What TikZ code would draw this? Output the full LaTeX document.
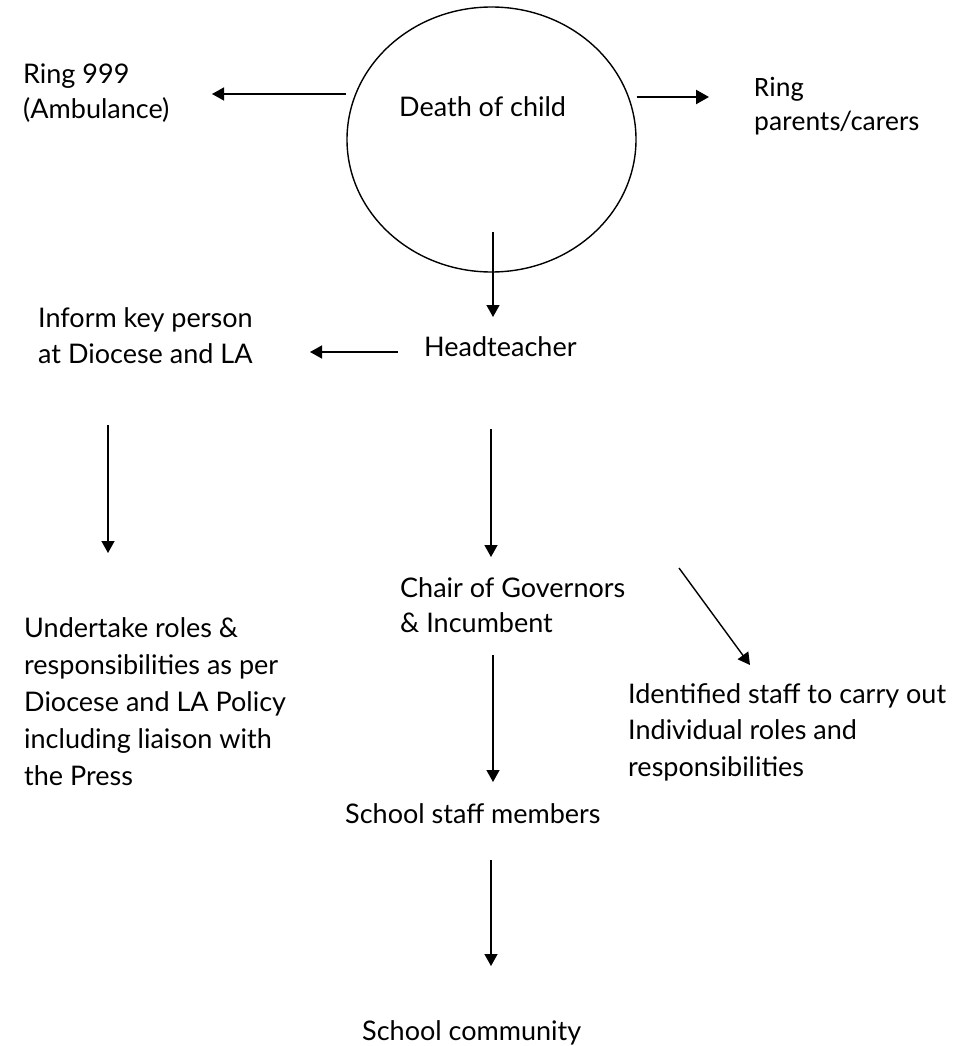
\documentclass[tikz,border=0pt]{standalone}
\usepackage{fontspec}
\setmainfont{Lato}
\newfontfamily\calfont{Carlito}
\usetikzlibrary{positioning,arrows.meta,shapes.geometric}

\begin{document}
\begin{tikzpicture}[
      x=1pt, y=-1pt,
      font=\fontsize{27}{36.5}\selectfont,
      >={Triangle[length=12pt,width=13pt]},
      txt/.style={inner sep=0pt, align=left, anchor=base west},
      flow/.style={->, line width=1.4pt},
      thick flow/.style={->, line width=2.4pt, >={Triangle[length=13pt,width=14pt]}}
    ]
    \useasboundingbox (0,0) rectangle (969,1046);

    \node[draw, ellipse, line width=1.4pt, inner sep=0pt,
          minimum width=289pt, minimum height=265pt] (death) at (491.5,139.5) {};
    \node[txt] (deathlbl) at (399,117) {Death of child};

    % multi-line nodes: base is the last line
    \node[txt, font=\fontsize{27}{35}\selectfont] (ambulance) at (23,119) {Ring 999\\(Ambulance)};
    \node[txt, font=\calfont\fontsize{28}{34}\selectfont] (parents) at (754,131) {Ring\\parents/carers};
    \node[txt] (head) at (424,356) {Headteacher};
    \node[txt, font=\fontsize{27}{35.5}\selectfont] (inform) at (38,363) {Inform key person\\at Diocese and LA};
    \node[txt, font=\fontsize{27}{37}\selectfont] (undertake) at (24,785)
         {Undertake roles \&\\responsibilities as per\\Diocese and LA Policy\\including liaison with\\the Press};
    \node[txt, font=\fontsize{27}{35}\selectfont] (chair) at (400,632) {Chair of Governors\\\& Incumbent};
    \node[txt] (staff) at (628,776) {Identified staff to carry out\\Individual roles and\\responsibilities};
    \node[txt] (members) at (345,823) {School staff members};
    \node[txt] (community) at (362,1040) {School community};

    % arrow end points
    \coordinate (ambEnd)  at (212,94);
    \coordinate (parEnd)  at (709,97);
    \coordinate (headTop) at (493,232);
    \coordinate (headEnd) at (493,317);
    \coordinate (infStart) at (398,352);
    \coordinate (infEnd)  at (310,352);
    \coordinate (undStart) at (108,425);
    \coordinate (undEnd)  at (108,553);
    \coordinate (chStart) at (491,429);
    \coordinate (chEnd)   at (491,557);
    \coordinate (stStart) at (679,568);
    \coordinate (stEnd)   at (750,665);
    \coordinate (memStart) at (493,655);
    \coordinate (memEnd)  at (493,782);
    \coordinate (comStart) at (491,860);
    \coordinate (comEnd)  at (491,966);

    \draw[flow] (death.west |- ambEnd) -- (ambEnd);
    \draw[thick flow] (death.east |- parEnd) -- (parEnd);
    \draw[flow] (headTop) -- (headEnd);
    \draw[flow] (infStart) -- (infEnd);
    \draw[flow] (undStart) -- (undEnd);
    \draw[flow] (chStart) -- (chEnd);
    \draw[flow] (stStart) -- (stEnd);
    \draw[flow] (memStart) -- (memEnd);
    \draw[flow] (comStart) -- (comEnd);
  \end{tikzpicture}
\end{document}
